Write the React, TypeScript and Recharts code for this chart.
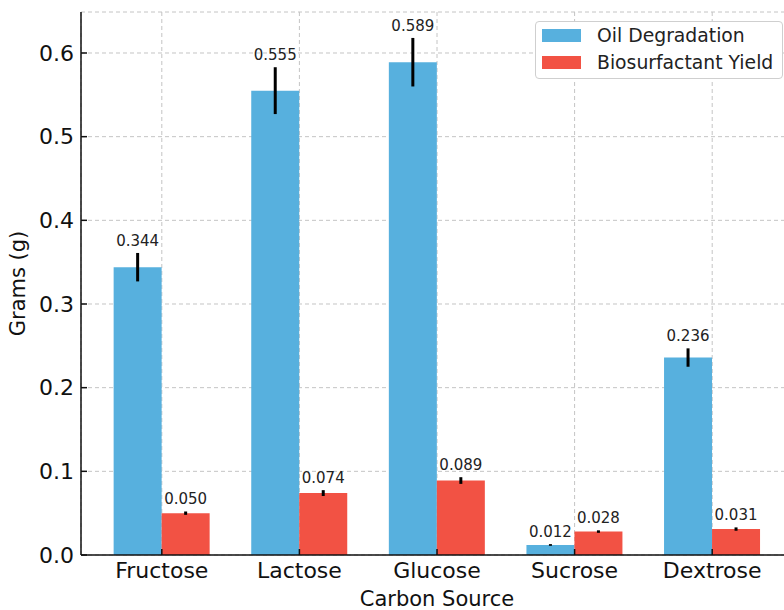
import {
  Bar,
  BarChart,
  CartesianGrid,
  ErrorBar,
  LabelList,
  Legend,
  XAxis,
  YAxis,
} from "recharts";

const categories = ["Fructose", "Lactose", "Glucose", "Sucrose", "Dextrose"];
const oilDegradation = [0.344, 0.555, 0.589, 0.012, 0.236];
const oilError = [0.017, 0.028, 0.029, 0.001, 0.011];
const biosurfactantYield = [0.05, 0.074, 0.089, 0.028, 0.031];
const biosurfactantError = [0.002, 0.0035, 0.004, 0.0015, 0.002];
const yTicks = [0, 0.1, 0.2, 0.3, 0.4, 0.5, 0.6];
const seriesNames = ["Oil Degradation", "Biosurfactant Yield"];

const FONT = "'DejaVu Sans', sans-serif";
const BLUE = "#57b0de";
const RED = "#f25244";

const data = categories.map((name, i) => ({
  name,
  oil: oilDegradation[i],
  oilErr: oilError[i],
  bio: biosurfactantYield[i],
  bioErr: biosurfactantError[i],
}));

// value label sitting just above the top of the error bar
function valueLabel(errors: number[]) {
  return (props: any) => {
    const { x, y, width, height, value, index } = props;
    const pxPerUnit = value ? height / value : 0;
    const errPx = (errors[index] ?? 0) * pxPerUnit;
    return (
      <text
        x={x + width / 2}
        y={y - errPx - 7}
        textAnchor="middle"
        fontSize={15}
        fontFamily={FONT}
        fill="#222"
      >
        {Number(value).toFixed(3)}
      </text>
    );
  };
}

function YLabel(props: any) {
  const { viewBox } = props;
  const cx = 18;
  const cy = viewBox.y + viewBox.height / 2;
  return (
    <text
      x={cx}
      y={cy}
      transform={`rotate(-90, ${cx}, ${cy})`}
      textAnchor="middle"
      dominantBaseline="central"
      fontSize={21}
      fontFamily={FONT}
      fill="#111"
    >
      Grams (g)
    </text>
  );
}

function LegendBox(props: any) {
  const items = [...(props.payload ?? [])].sort(
    (a: any, b: any) => seriesNames.indexOf(a.value) - seriesNames.indexOf(b.value)
  );
  return (
    <div
      style={{
        width: 248,
        height: 58,
        boxSizing: "border-box",
        border: "1px solid #cfcfcf",
        borderRadius: 4,
        background: "#fff",
        padding: "0 6px",
        fontFamily: FONT,
        fontSize: 18.8,
        color: "#222",
      }}
    >
      {items.map((it: any) => (
        <div
          key={it.value}
          style={{ display: "flex", alignItems: "center", height: 27 }}
        >
          <span
            style={{
              display: "inline-block",
              width: 39,
              height: 13,
              background: it.color,
              marginRight: 16,
            }}
          />
          <span>{it.value}</span>
        </div>
      ))}
    </div>
  );
}

export default function App() {
  return (
    <div
      style={{
        position: "absolute",
        left: 0,
        top: 0,
        width: 784,
        height: 610,
        overflow: "hidden",
        background: "#fff",
      }}
    >
      <BarChart
        width={800}
        height={610}
        data={data}
        margin={{ top: 12, right: 7, left: 0, bottom: 0 }}
        barCategoryGap="15%"
        barGap={0}
      >
        <CartesianGrid stroke="#c4c4c4" strokeDasharray="4 3" />
        <XAxis
          dataKey="name"
          height={55}
          padding={{ left: 12, right: 12 }}
          axisLine={{ stroke: "#111", strokeWidth: 1.5 }}
          tickLine={{ stroke: "#111", strokeWidth: 1.5 }}
          tickSize={-6}
          tickMargin={13}
          tick={{ fontSize: 22, fontFamily: FONT, fill: "#111" }}
          label={{
            value: "Carbon Source",
            position: "insideBottom",
            offset: 4,
            fontSize: 21,
            fontFamily: FONT,
            fill: "#111",
          }}
        />
        <YAxis
          width={81}
          domain={[0, 0.649]}
          ticks={yTicks}
          allowDataOverflow
          tickFormatter={(v: number) => v.toFixed(1)}
          axisLine={{ stroke: "#111", strokeWidth: 1.5 }}
          tickLine={{ stroke: "#111", strokeWidth: 1.5 }}
          tickSize={-6}
          tickMargin={13}
          tick={{ fontSize: 22, fontFamily: FONT, fill: "#111" }}
          label={<YLabel />}
        />
        <Legend
          layout="vertical"
          align="center"
          verticalAlign="middle"
          wrapperStyle={{ top: 21, left: 535, width: 248 }}
          content={<LegendBox />}
        />
        <Bar
          dataKey="oil"
          name={seriesNames[0]}
          fill={BLUE}
          isAnimationActive={false}
        >
          <ErrorBar dataKey="oilErr" width={0} strokeWidth={3} stroke="#000" direction="y" />
          <LabelList dataKey="oil" content={valueLabel(oilError)} />
        </Bar>
        <Bar
          dataKey="bio"
          name={seriesNames[1]}
          fill={RED}
          isAnimationActive={false}
        >
          <ErrorBar dataKey="bioErr" width={0} strokeWidth={3} stroke="#000" direction="y" />
          <LabelList dataKey="bio" content={valueLabel(biosurfactantError)} />
        </Bar>
      </BarChart>
    </div>
  );
}
